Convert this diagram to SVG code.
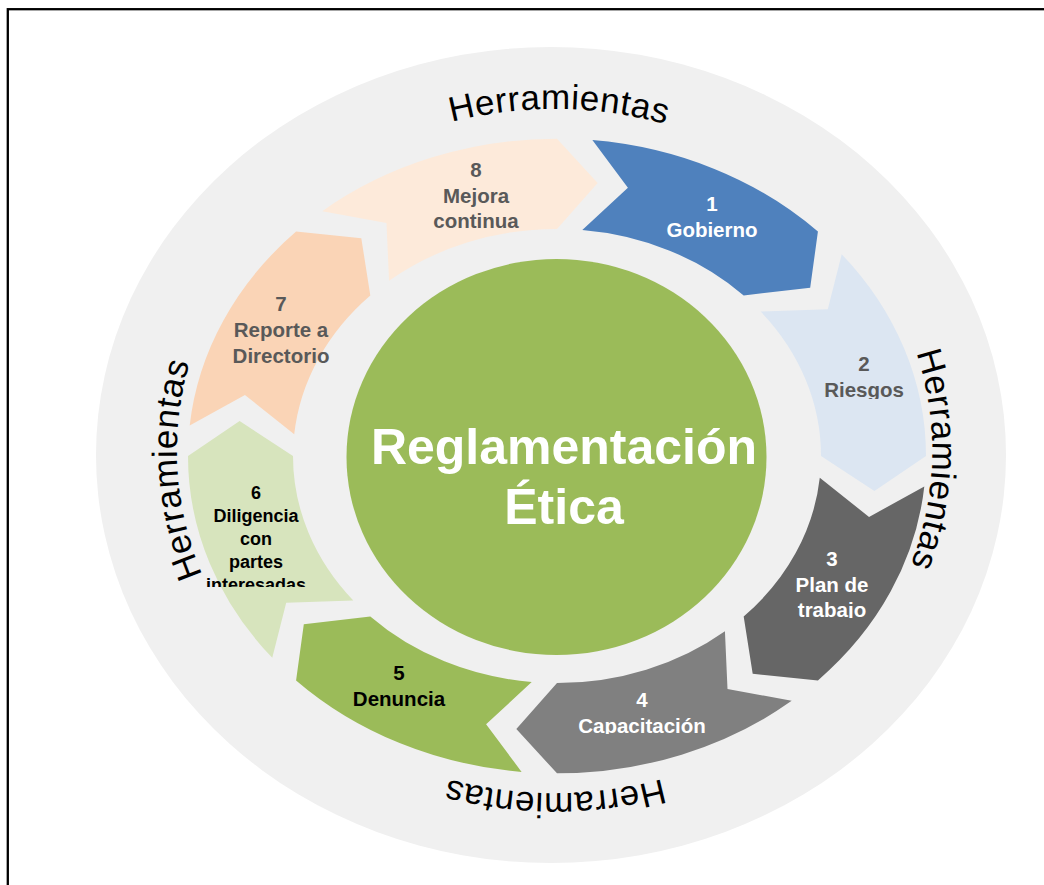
<svg xmlns="http://www.w3.org/2000/svg" width="1044" height="885" viewBox="0 0 1044 885">
  <defs>
    <style>
      .lbl { font-family: "Liberation Sans", Arial, sans-serif; font-weight: bold; font-size: 20.5px; text-anchor: middle; }
      .small { font-size: 18px; }
      .white { fill: #ffffff; }
      .grey { fill: #595959; }
      .black { fill: #000000; }
      .title { font-family: "Liberation Sans", Arial, sans-serif; font-weight: bold; font-size: 50px; fill: #ffffff; text-anchor: middle; }
      .tool { font-family: "Liberation Sans", Arial, sans-serif; font-size: 35px; fill: #000000; letter-spacing: 0.6px; }
    </style>
    <!-- one ring segment (45 degree step), drawn in circle space around the origin -->
    <path id="seg" d="M35.37,-367.30 A369,369 0 0 1 260.92,-260.92 L253.19,-195.69 L186.68,-186.68 A264,264 0 0 0 25.30,-262.79 L70.90,-312.05 Z"/>
    <!-- baselines for the curved "Herramientas" labels -->
    <path id="arcTop" d="M191.2,358.1 A377.5,342 0 0 1 920.4,366.9"/>
    <path id="arcRight" d="M660.5,122.7 A377.5,342 0 0 1 643.9,783.3"/>
    <path id="arcBottom" d="M919.3,538.9 A377.5,342 0 0 1 190.0,540.1"/>
    <path id="arcLeft" d="M475.0,785.3 A377.5,342 0 0 1 438.8,125.4"/>
    <clipPath id="clip2"><rect x="780" y="340" width="170" height="59"/></clipPath>
    <clipPath id="clip3"><rect x="760" y="535" width="150" height="83"/></clipPath>
    <clipPath id="clip4"><rect x="560" y="675" width="170" height="59"/></clipPath>
    <clipPath id="clip6"><rect x="190" y="470" width="140" height="117"/></clipPath>
  </defs>

  <!-- page frame -->
  <rect x="7.8" y="9.2" width="1045" height="885" fill="#ffffff" stroke="#000000" stroke-width="2.3"/>

  <!-- background disc -->
  <ellipse id="backdrop" cx="551" cy="455" rx="455" ry="408" fill="#f0f0f0"/>

  <g id="tools">
    <text class="tool"><textPath href="#arcTop" startOffset="50%" text-anchor="middle">Herramientas</textPath></text>
    <text class="tool"><textPath href="#arcRight" startOffset="50%" text-anchor="middle">Herramientas</textPath></text>
    <text class="tool"><textPath href="#arcBottom" startOffset="50%" text-anchor="middle">Herramientas</textPath></text>
    <text class="tool"><textPath href="#arcLeft" startOffset="50%" text-anchor="middle">Herramientas</textPath></text>
  </g>

  <g id="connectors"></g>

  <g id="step1">
    <use href="#seg" fill="#4f81bd" transform="translate(557,456) scale(1,0.86)"/>
    <text class="lbl white"><tspan x="712" y="211">1</tspan><tspan x="712" y="237">Gobierno</tspan></text>
  </g>

  <g id="step2">
    <use href="#seg" fill="#dce6f2" transform="translate(557,456) scale(1,0.86) rotate(45)"/>
    <text class="lbl grey" clip-path="url(#clip2)"><tspan x="864" y="371">2</tspan><tspan x="864" y="397">Riesgos</tspan></text>
  </g>

  <g id="step3">
    <use href="#seg" fill="#666666" transform="translate(557,456) scale(1,0.86) rotate(90)"/>
    <text class="lbl white" clip-path="url(#clip3)"><tspan x="832" y="566">3</tspan><tspan x="832" y="592">Plan de</tspan><tspan x="832" y="617">trabajo</tspan></text>
  </g>

  <g id="step4">
    <use href="#seg" fill="#808080" transform="translate(557,456) scale(1,0.86) rotate(135)"/>
    <text class="lbl white" clip-path="url(#clip4)"><tspan x="642" y="707">4</tspan><tspan x="642" y="733">Capacitación</tspan></text>
  </g>

  <g id="step5">
    <use href="#seg" fill="#9bbb59" transform="translate(557,456) scale(1,0.86) rotate(180)"/>
    <text class="lbl black"><tspan x="399" y="680">5</tspan><tspan x="399" y="706">Denuncia</tspan></text>
  </g>

  <g id="step6">
    <use href="#seg" fill="#d7e4bd" transform="translate(557,456) scale(1,0.86) rotate(225)"/>
    <text class="lbl small black" clip-path="url(#clip6)"><tspan x="256" y="499">6</tspan><tspan x="256" y="522">Diligencia</tspan><tspan x="256" y="545">con</tspan><tspan x="256" y="568">partes</tspan><tspan x="256" y="591">interesadas</tspan></text>
  </g>

  <g id="step7">
    <use href="#seg" fill="#fad4b6" transform="translate(557,456) scale(1,0.86) rotate(270)"/>
    <text class="lbl grey"><tspan x="281" y="311">7</tspan><tspan x="281" y="337">Reporte a</tspan><tspan x="281" y="363">Directorio</tspan></text>
  </g>

  <g id="step8">
    <use href="#seg" fill="#fdeada" transform="translate(557,456) scale(1,0.86) rotate(315)"/>
    <text class="lbl grey"><tspan x="476" y="177">8</tspan><tspan x="476" y="202.5">Mejora</tspan><tspan x="476" y="228">continua</tspan></text>
  </g>

  <g id="core">
    <ellipse cx="556.5" cy="457" rx="210" ry="198" fill="#9bbb59"/>
    <text class="title"><tspan x="564" y="464">Reglamentación</tspan><tspan x="564" y="524">Ética</tspan></text>
  </g>
</svg>
